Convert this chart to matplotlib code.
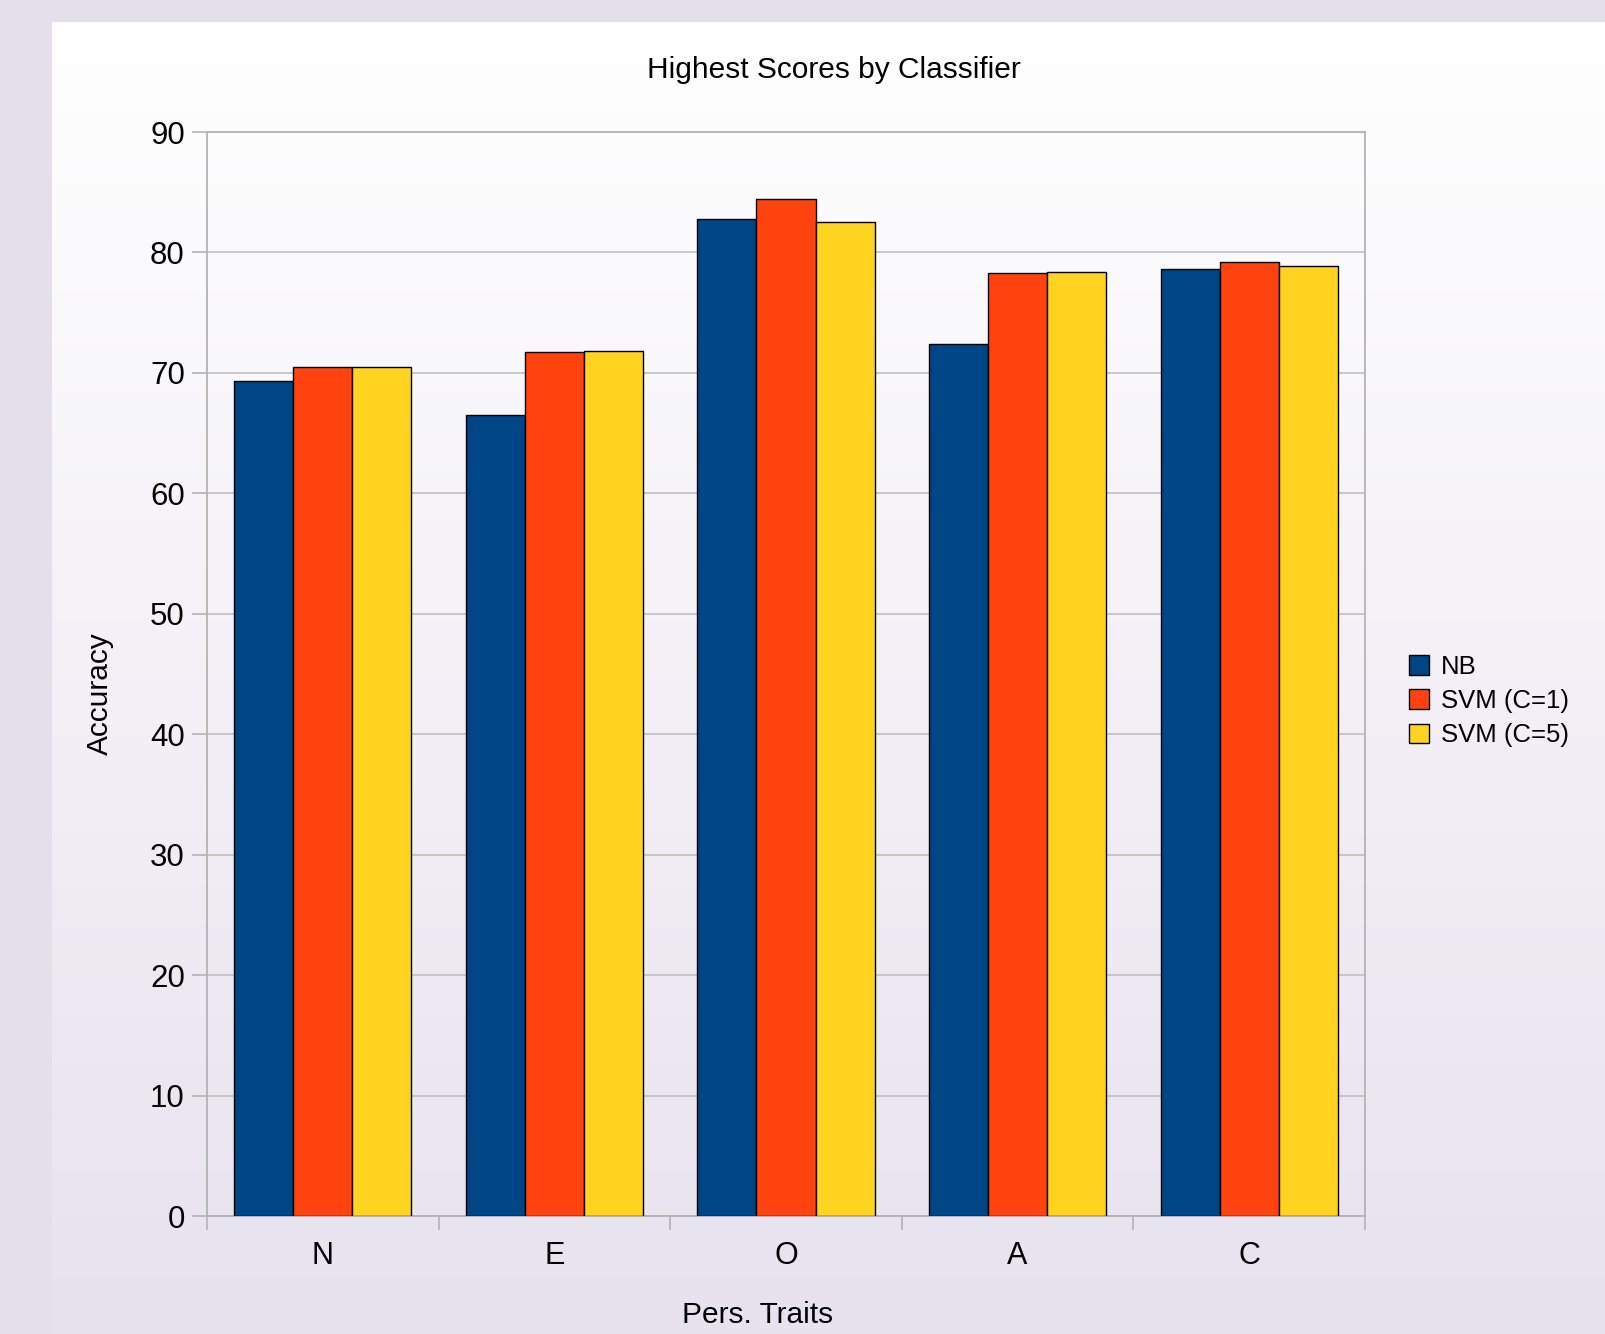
import numpy as np
import matplotlib
matplotlib.use("Agg")
import matplotlib.pyplot as plt

plt.rcParams['font.family'] = ['Liberation Sans', 'DejaVu Sans']

# data
traits = ["N", "E", "O", "A", "C"]
nb = [69.3, 66.5, 82.8, 72.4, 78.65]
svm_c1 = [70.5, 71.7, 84.4, 78.3, 79.2]
svm_c5 = [70.45, 71.8, 82.5, 78.4, 78.9]
series_names = ["NB", "SVM (C=1)", "SVM (C=5)"]
colors = ["#004586", "#ff420e", "#ffd320"]

W, H = 1606, 1334
fig = plt.figure(figsize=(W / 100, H / 100), dpi=100)
fig.patch.set_facecolor("#e5dfeb")

# white-to-lavender panel behind the chart
bg = fig.add_axes([52 / W, 0, 1 - 52 / W, 1 - 22 / H], zorder=-1)
grad = np.linspace(0, 1, 256).reshape(-1, 1)
top = np.array([1.0, 1.0, 1.0])
bot = np.array([0xe7, 0xe2, 0xee]) / 255
img = top[None, None, :] * (1 - grad[:, :, None]) + bot[None, None, :] * grad[:, :, None]
bg.imshow(img, aspect="auto", extent=[0, 1, 0, 1])
bg.axis("off")

left, right, top_px, bottom_px = 207, 1365, 132, 1216
ax = fig.add_axes([left / W, 1 - bottom_px / H, (right - left) / W, (bottom_px - top_px) / H])
ax.set_facecolor("none")

x = np.arange(len(traits))
bw = 0.255
for k, (vals, name, c) in enumerate(zip([nb, svm_c1, svm_c5], series_names, colors)):
    ax.bar(x + (k - 1) * bw, vals, bw, color=c, edgecolor="black", linewidth=1.0, label=name, zorder=3)

ax.set_xlim(-0.5, len(traits) - 0.5)
ax.set_ylim(0, 90)
ax.set_yticks(range(0, 91, 10))
ax.yaxis.grid(True, color="#c4c4c4", linewidth=1.3, zorder=0)
ax.set_xticks(x)
ax.set_xticklabels(traits, fontsize=22)
ax.set_xticks(np.arange(-0.5, len(traits), 1), minor=True)
ax.tick_params(axis="x", which="major", length=0, pad=18)
ax.tick_params(axis="x", which="minor", length=10, color="#b3b3b3", width=1.2)
ax.tick_params(axis="y", length=11, color="#b3b3b3", width=1.2, labelsize=22.5, pad=5)
for s in ax.spines.values():
    s.set_color("#b3b3b3")
    s.set_linewidth(1.3)

fig.text(834 / W, 1 - 70 / H, "Highest Scores by Classifier", ha="center", va="center", fontsize=21.5)
fig.text(758 / W, 1 - 1315 / H, "Pers. Traits", ha="center", va="center", fontsize=21.5)
fig.text(100 / W, 1 - 694 / H, "Accuracy", ha="center", va="center", rotation=90, fontsize=21.5)

fig.legend(loc="center left", bbox_to_anchor=(1396 / W, 1 - 701 / H), frameon=False,
           fontsize=18.5, handlelength=0.8, handleheight=0.8, handletextpad=0.45, labelspacing=0.4,
           borderpad=0)

fig.savefig("out.png", dpi=100)
